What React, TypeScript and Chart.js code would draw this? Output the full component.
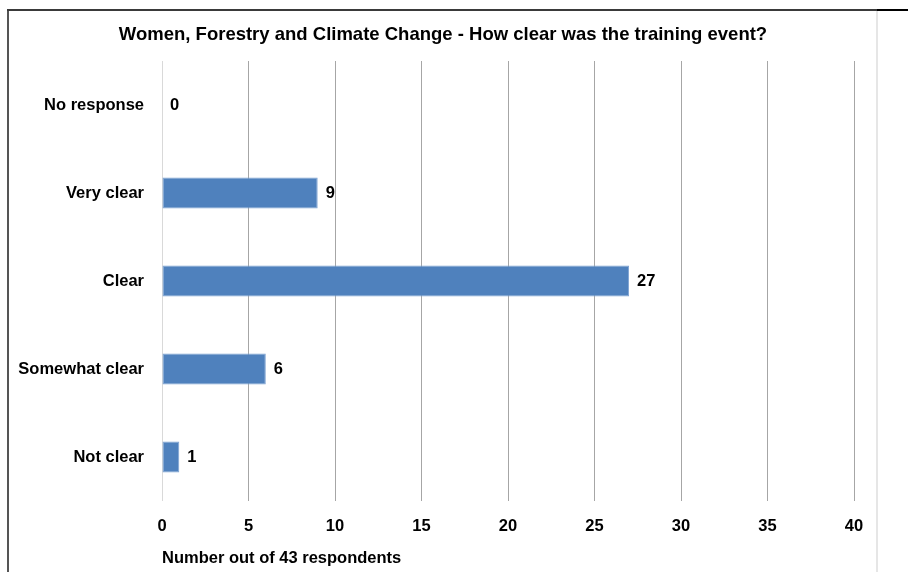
import React, { useEffect, useRef } from "react";
import { Chart, registerables } from "chart.js";

Chart.register(...registerables);

const TITLE = "Women, Forestry and Climate Change - How clear was the training event?";
const AXIS_TITLE = "Number out of 43 respondents";
const categories = ["No response", "Very clear", "Clear", "Somewhat clear", "Not clear"];
const counts = [0, 9, 27, 6, 1];
const xTicks = [0, 5, 10, 15, 20, 25, 30, 35, 40];

const FONT = "'Liberation Sans', Arial, sans-serif";
const BAR_BLUE = "#4f81bd";

// Frame lines around the chart object, plus the chart heading
const framePlugin = {
  id: "frame",
  afterDraw(chart: Chart) {
    const ctx = chart.ctx;
    const w = chart.width;
    const h = chart.height;
    ctx.save();
    ctx.fillStyle = "#e6e6e6";
    ctx.fillRect(876, 11, 2, h - 11);
    ctx.fillStyle = "#555555";
    ctx.fillRect(7, 10, 2, h - 10);
    ctx.fillStyle = "#3a3a3a";
    ctx.fillRect(7, 9, 870, 2);
    ctx.fillStyle = "#000000";
    ctx.fillRect(877, 9, w - 877, 2);

    ctx.font = `bold 18.5px ${FONT}`;
    ctx.textAlign = "center";
    ctx.textBaseline = "middle";
    ctx.fillText(TITLE, 443, 35);
    ctx.restore();
  },
};

// Value labels at the end of each bar
const valueLabelPlugin = {
  id: "valueLabels",
  afterDatasetsDraw(chart: Chart) {
    const ctx = chart.ctx;
    const meta = chart.getDatasetMeta(0);
    ctx.save();
    ctx.font = `bold 16.5px ${FONT}`;
    ctx.fillStyle = "#000000";
    ctx.textAlign = "left";
    ctx.textBaseline = "middle";
    meta.data.forEach((bar: any, i: number) => {
      ctx.fillText(String(counts[i]), bar.x + 8, bar.y);
    });
    ctx.restore();
  },
};

export default function App() {
  const canvasRef = useRef<HTMLCanvasElement | null>(null);

  useEffect(() => {
    if (!canvasRef.current) return;
    const chart = new Chart(canvasRef.current, {
      type: "bar",
      data: {
        labels: categories,
        datasets: [
          {
            data: counts,
            backgroundColor: BAR_BLUE,
            borderColor: "#7da2d2",
            borderWidth: 1,
            borderSkipped: false,
            categoryPercentage: 0.35,
            barPercentage: 1,
          },
        ],
      },
      options: {
        indexAxis: "y",
        responsive: false,
        animation: false,
        layout: { padding: { left: 0, right: 54, top: 61, bottom: 0 } },
        plugins: {
          legend: { display: false },
          tooltip: { enabled: false },
          title: { display: false },
        },
        scales: {
          x: {
            min: 0,
            max: 40,
            afterFit(scale: any) {
              scale.height = 71;
            },
            afterBuildTicks(scale: any) {
              scale.ticks = xTicks.map((v) => ({ value: v }));
            },
            grid: {
              drawTicks: false,
              color: (c: any) => (c.tick && c.tick.value === 0 ? "#d9d9d9" : "#a6a6a6"),
            },
            border: { display: false },
            ticks: {
              padding: 16,
              color: "#000000",
              font: { family: FONT, size: 16.5, weight: "bold" },
            },
            title: {
              display: true,
              text: AXIS_TITLE,
              align: "start",
              color: "#000000",
              font: { family: FONT, size: 16.5, weight: "bold" },
              padding: { top: 0, bottom: 4 },
            },
          },
          y: {
            afterFit(scale: any) {
              scale.width = 162;
            },
            grid: { display: false, drawTicks: false },
            border: { display: false },
            ticks: {
              padding: 18,
              color: "#000000",
              font: { family: FONT, size: 16.5, weight: "bold" },
            },
          },
        },
      },
      plugins: [framePlugin, valueLabelPlugin],
    });
    return () => chart.destroy();
  }, []);

  return (
    <div style={{ position: "fixed", left: 0, top: 0, width: 908, height: 572, background: "#ffffff" }}>
      <canvas ref={canvasRef} width={908} height={572} />
    </div>
  );
}
